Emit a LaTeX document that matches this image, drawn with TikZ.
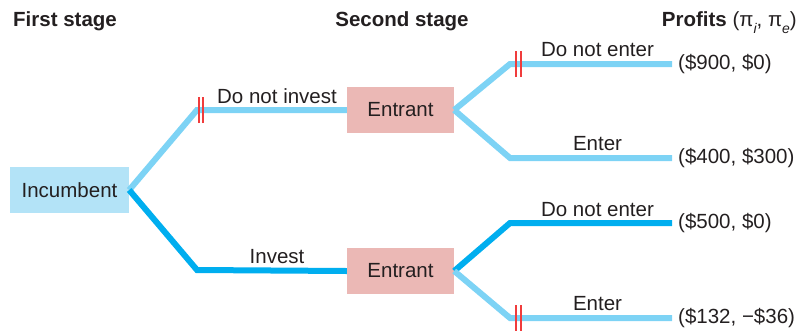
\documentclass[tikz,border=0pt]{standalone}
\usepackage{fontspec}
\setmainfont{Liberation Sans}
\definecolor{lightbr}{HTML}{7DD3F5}
\definecolor{darkbr}{HTML}{00AEEF}
\definecolor{incfill}{HTML}{B3E3F7}
\definecolor{entfill}{HTML}{EBB8B5}
\definecolor{markred}{HTML}{F03C3C}
\definecolor{txt}{HTML}{231F20}
\tikzset{
  base/.style={font=\fontsize{20.5}{24}\selectfont, text=txt},
  incbox/.style={base, draw=none, fill=incfill, minimum width=119pt, minimum height=46pt, inner sep=0pt},
  entbox/.style={base, draw=none, fill=entfill, minimum width=107pt, minimum height=46pt, inner sep=0pt},
  lightline/.style={draw=lightbr, line width=6pt},
  darkline/.style={draw=darkbr, line width=6pt},
  lbl/.style={base, anchor=base, inner sep=0pt},
  head/.style={font=\fontsize{20.5}{24}\selectfont\bfseries, text=txt, inner sep=0pt},
  payoff/.style={base, anchor=west, inner xsep=6pt, inner ysep=0pt},
  cut/.style={draw=markred, line width=1.2pt}
}
\begin{document}
\begin{tikzpicture}[x=1pt, y=-1pt]
\useasboundingbox (0,0) rectangle (802,330);
% headers
\node[head, anchor=base west] (h1) at (13,26) {First stage};
\node[head, anchor=base] (h2) at (402,26) {Second stage};
\node[head, anchor=base east] (h3) at (797,26) {Profits \mdseries(π\raisebox{-0.35em}{\fontsize{14}{14}\selectfont\itshape i}, π\raisebox{-0.35em}{\fontsize{14}{14}\selectfont\itshape e})};
% nodes
\node[incbox] (inc) at (69.5,190) {Incumbent};
\node[entbox] (ent1) at (400.5,110) {Entrant};
\node[entbox] (ent2) at (400.5,271) {Entrant};
% bends
\coordinate (b1) at (197,110);
\coordinate (b2) at (197,270);
\coordinate (c1) at (510,64);
\coordinate (c2) at (510,158);
\coordinate (c3) at (510,223);
\coordinate (c4) at (510,318);
% payoffs
\node[payoff] (p1) at (672,64) {(\$900, \$0)};
\node[payoff] (p2) at (672,158) {(\$400, \$300)};
\node[payoff] (p3) at (672,223) {(\$500, \$0)};
\node[payoff] (p4) at (672,318) {(\$132, −\$36)};
% branches
\draw[lightline] (inc.east) -- (b1) -- (ent1.west);
\draw[darkline] (inc.east) -- (b2) -- (ent2.west);
\draw[lightline] (ent1.east) -- (c1) -- (p1.west);
\draw[lightline] (ent1.east) -- (c2) -- (p2.west);
\draw[darkline] (ent2.east) -- (c3) -- (p3.west);
\draw[lightline] (ent2.east) -- (c4) -- (p4.west);
% cut marks
\draw[cut] ([xshift=2pt,yshift=-13pt]b1) -- ([xshift=2pt,yshift=13pt]b1);
\draw[cut] ([xshift=6pt,yshift=-13pt]b1) -- ([xshift=6pt,yshift=13pt]b1);
\draw[cut] ([xshift=6pt,yshift=-13pt]c1) -- ([xshift=6pt,yshift=13pt]c1);
\draw[cut] ([xshift=11pt,yshift=-13pt]c1) -- ([xshift=11pt,yshift=13pt]c1);
\draw[cut] ([xshift=6pt,yshift=-13pt]c4) -- ([xshift=6pt,yshift=13pt]c4);
\draw[cut] ([xshift=11pt,yshift=-13pt]c4) -- ([xshift=11pt,yshift=13pt]c4);
% labels
\node[lbl] (l1) at (277,103) {Do not invest};
\node[lbl] (l2) at (277,263) {Invest};
\node[lbl] (l3) at (597.5,56) {Do not enter};
\node[lbl] (l4) at (597.5,150) {Enter};
\node[lbl] (l5) at (597.5,216) {Do not enter};
\node[lbl] (l6) at (597.5,310) {Enter};
\end{tikzpicture}
\end{document}
